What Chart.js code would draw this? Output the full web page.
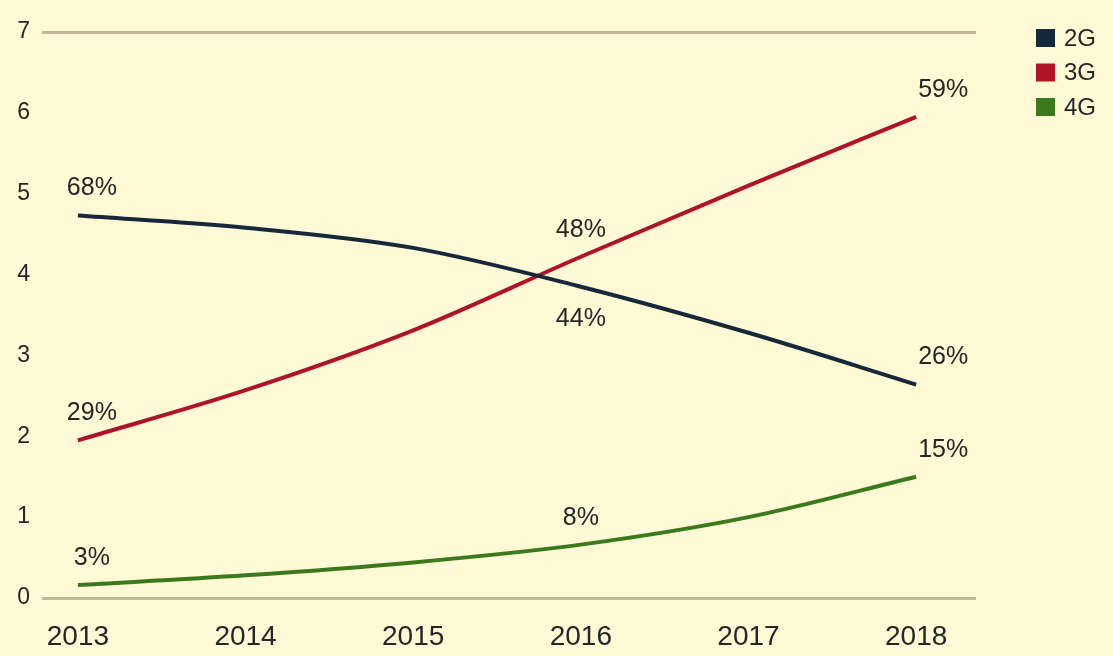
<!DOCTYPE html>
<html>
<head>
<meta charset="utf-8">
<script src="https://cdn.jsdelivr.net/npm/chart.js@4/dist/chart.umd.min.js"></script>
<style>
  html, body { margin: 0; padding: 0; background: #fff9d5; }
  #wrap { width: 1113px; height: 656px; position: relative; }
</style>
</head>
<body>
<div id="wrap"><canvas id="c" width="1113" height="656"></canvas></div>
<script>
// Years on the horizontal axis
const years = [2013, 2014, 2015, 2016, 2017, 2018];

// Series values
const series2G = [4.73, 4.58, 4.33, 3.85, 3.28, 2.64];
const series3G = [1.95, 2.57, 3.31, 4.22, 5.10, 5.95];
const series4G = [0.16, 0.28, 0.44, 0.66, 1.00, 1.50];

// Share labels printed next to selected points
const labels2G = ['68%', null, null, '44%', null, '26%'];
const labels3G = ['29%', null, null, '48%', null, '59%'];
const labels4G = ['3%', null, null, '8%', null, '15%'];

// Y axis ticks
const yTicks = [0, 1, 2, 3, 4, 5, 6, 7];

const seriesNames = ['2G', '3G', '4G'];
const seriesColors = ['#16293a', '#b01228', '#3a7a1c'];

const toPoints = vals => vals.map((v, i) => ({ x: years[i], y: v }));

const FONT = '"Liberation Sans", Arial, sans-serif';
const TEXT = '#262626';

// Labels placed under their point rather than above
const belowPoints = { '0:3': true };

const pointLabels = {
  id: 'pointLabels',
  afterDatasetsDraw(chart) {
    const ctx = chart.ctx;
    ctx.save();
    ctx.font = '25px ' + FONT;
    ctx.fillStyle = TEXT;
    ctx.textAlign = 'center';
    ctx.textBaseline = 'middle';
    chart.data.datasets.forEach((ds, di) => {
      const meta = chart.getDatasetMeta(di);
      ds.pointText.forEach((t, i) => {
        if (!t) return;
        const el = meta.data[i];
        let dx = 0;
        if (i === 0) dx = 14;
        if (i === ds.pointText.length - 1) dx = 27;
        const dy = belowPoints[di + ':' + i] ? 32 : -27;
        ctx.fillText(t, el.x + dx, el.y + dy);
      });
    });
    ctx.restore();
  }
};

const sideLegend = {
  id: 'sideLegend',
  afterDraw(chart) {
    const ctx = chart.ctx;
    ctx.save();
    ctx.font = '24px ' + FONT;
    ctx.textBaseline = 'middle';
    ctx.textAlign = 'left';
    chart.data.datasets.forEach((ds, i) => {
      const cy = 38 + i * 34.5;
      ctx.fillStyle = ds.borderColor;
      ctx.fillRect(1036, cy - 9, 19, 18);
      ctx.fillStyle = TEXT;
      ctx.fillText(ds.label, 1064, cy + 1);
    });
    ctx.restore();
  }
};

const bgFill = {
  id: 'bgFill',
  beforeDraw(chart) {
    const ctx = chart.ctx;
    ctx.save();
    ctx.fillStyle = '#fff9d5';
    ctx.fillRect(0, 0, chart.width, chart.height);
    ctx.restore();
  }
};

new Chart(document.getElementById('c'), {
  type: 'line',
  data: {
    datasets: [
      { label: seriesNames[0], data: toPoints(series2G), pointText: labels2G, borderColor: seriesColors[0] },
      { label: seriesNames[1], data: toPoints(series3G), pointText: labels3G, borderColor: seriesColors[1] },
      { label: seriesNames[2], data: toPoints(series4G), pointText: labels4G, borderColor: seriesColors[2] }
    ]
  },
  options: {
    responsive: false,
    animation: false,
    layout: { padding: { top: 32, right: 137, left: 0, bottom: 0 } },
    elements: {
      line: { borderWidth: 4, cubicInterpolationMode: 'monotone', borderCapStyle: 'butt' },
      point: { radius: 0, hoverRadius: 0 }
    },
    plugins: { legend: { display: false }, tooltip: { enabled: false } },
    scales: {
      x: {
        type: 'linear',
        min: 2012.786,
        max: 2018.357,
        afterBuildTicks: s => { s.ticks = years.map(v => ({ value: v })); },
        afterFit: s => { s.height = 58; },
        grid: { display: false, drawTicks: false },
        border: { display: false },
        ticks: {
          padding: 22,
          color: TEXT,
          font: { family: FONT, size: 28 },
          callback: v => String(v),
          maxRotation: 0,
          autoSkip: false
        }
      },
      y: {
        min: 0,
        max: 7,
        afterBuildTicks: s => { s.ticks = yTicks.map(v => ({ value: v })); },
        afterFit: s => { s.width = 42; },
        grid: {
          drawTicks: false,
          lineWidth: 3,
          color: c => (c.tick && (c.tick.value === 0 || c.tick.value === 7)) ? '#c4b893' : 'rgba(0,0,0,0)'
        },
        border: { display: false },
        ticks: {
          padding: 12,
          color: TEXT,
          font: { family: FONT, size: 23 }
        }
      }
    }
  },
  plugins: [bgFill, pointLabels, sideLegend]
});
</script>
</body>
</html>
